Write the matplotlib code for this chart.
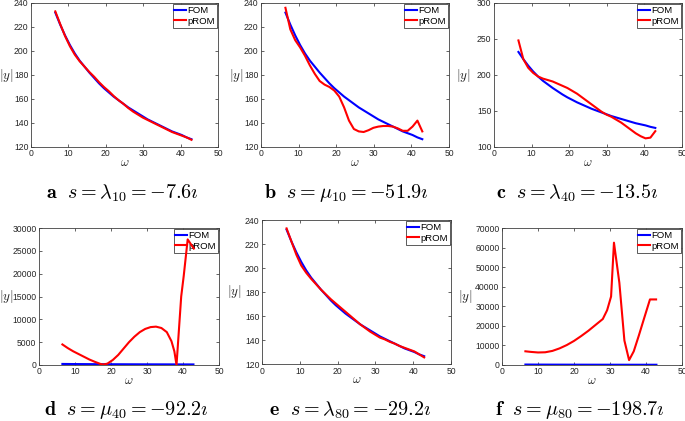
import matplotlib
matplotlib.use("Agg")
import matplotlib.pyplot as plt

plt.rcParams['font.family'] = 'Liberation Sans'
plt.rcParams['mathtext.fontset'] = 'cm'

# 주파수 격자 (FOM 공통)
omega = [6.5, 7.8, 9.1, 10.4, 11.7, 13.0, 14.3, 15.6, 16.9, 18.2, 19.5, 20.8, 22.1, 23.4, 24.7,
         26.0, 27.3, 28.6, 29.9, 31.2, 32.5, 33.8, 35.1, 36.4, 37.7, 39.0, 40.3, 41.6, 42.9]
fom = [232, 222, 213, 205, 198, 192, 187, 182, 177.5, 173, 169, 165.5, 162, 159, 156,
       153, 150.5, 148, 145.5, 143, 141, 139, 137, 135, 133, 131.5, 130, 128, 126.5]

prom_a = [233, 222.5, 212.5, 204, 197, 191.5, 187, 182.5, 178.5, 174, 170, 166.5, 162.5, 159, 156,
          152.5, 149.5, 147, 144.5, 142.5, 140.5, 138.5, 136.5, 134.5, 132.5, 131, 129.5, 128, 126]
prom_b = [236, 218, 209, 203, 196, 188, 181, 175, 172, 170, 167, 162, 153, 142, 135,
          133, 132.5, 134, 136, 137, 137.5, 137.5, 137, 135.5, 133.5, 133.5, 137, 142, 133]
prom_c = [248, 222, 210, 203, 198, 195, 193, 191, 188, 185, 182, 178, 174, 169, 164,
          159, 154, 149, 145, 142, 138, 134, 129, 124, 119, 115, 112, 113, 122]
prom_e = [233, 222, 211, 202, 196, 191, 186.5, 182, 178, 174, 170.5, 167, 163.5, 160, 156.5,
          153, 150, 147, 144.5, 142, 140.5, 138.5, 137, 135, 133.5, 132, 130.5, 128, 125.5]

omega_d = [6.5, 8, 9.5, 11, 12.5, 14, 15.5, 17, 17.8, 19, 20.5, 22, 23.5, 25, 26.5, 28, 29.5,
           31, 32.5, 34, 35.5, 36.8, 37.6, 38.2, 39.5, 40.2, 41.3, 43.0]
prom_d = [4500, 3700, 3000, 2400, 1800, 1200, 700, 250, 100, 300, 1100, 2200, 3600, 5000, 6200,
          7200, 7900, 8300, 8400, 8100, 7200, 5200, 3000, 0, 15000, 19500, 27500, 25500]

omega_f = [6.5, 8, 10, 12, 14, 16, 18, 20, 22, 24, 26, 28, 29.2, 30.3, 31.1, 32.6, 34, 35.3,
           36.6, 38, 39.5, 41.1, 42.8]
prom_f = [7000, 6700, 6400, 6500, 7200, 8500, 10200, 12300, 14800, 17500, 20500, 23500, 28000,
          35000, 62500, 42000, 12500, 2500, 7000, 15000, 24000, 33500, 33500]

captions = [r"$\mathbf{a}\ \ s=\lambda_{10}=-7.6\imath$",
            r"$\mathbf{b}\ \ s=\mu_{10}=-51.9\imath$",
            r"$\mathbf{c}\ \ s=\lambda_{40}=-13.5\imath$",
            r"$\mathbf{d}\ \ s=\mu_{40}=-92.2\imath$",
            r"$\mathbf{e}\ \ s=\lambda_{80}=-29.2\imath$",
            r"$\mathbf{f}\ \ s=\mu_{80}=-198.7\imath$"]

W, H = 685, 421
fig = plt.figure(figsize=(W / 100, H / 100), dpi=100)

# 패널: (x0, x1, y0, y1) 픽셀, 데이터, y축 범위/간격
panels = [
    ((31, 218, 3, 147), omega, prom_a, (120, 240, 20)),
    ((261, 449, 3, 147), omega, prom_b, (120, 240, 20)),
    ((494, 682, 3, 147), omega, prom_c, (100, 300, 50)),
    ((39, 219, 228, 365), omega_d, prom_d, (0, 30000, 5000)),
    ((262, 451, 220, 364), omega, prom_e, (120, 240, 20)),
    ((502, 682, 228, 365), omega_f, prom_f, (0, 70000, 10000)),
]
cap_pos = [(122, 193), (346, 193), (577, 193), (126, 410), (350, 410), (580, 410)]
ylab_x = [6.5, 236, 463, 6.5, 234, 465]

for i, ((x0, x1, y0, y1), om, pr, (lo, hi, st)) in enumerate(panels):
    ax = fig.add_axes([x0 / W, (H - y1) / H, (x1 - x0) / W, (y1 - y0) / H])
    ax.plot(omega, fom, color='blue', lw=1.5, label='FOM', zorder=3)
    ax.plot(om, pr, color='red', lw=1.5, label='pROM', zorder=4)
    ax.set_xlim(0, 50)
    ax.set_ylim(lo, hi)
    ax.set_xticks(range(0, 51, 10))
    ax.set_yticks(range(lo, hi + 1, st))
    ax.tick_params(direction='in', length=2.5, width=0.5, labelsize=6.2, pad=1.8,
                   top=True, right=True, colors='#262626')
    for sp in ax.spines.values():
        sp.set_linewidth(0.6)
        sp.set_color('#404040')
    leg = ax.legend(loc='upper right', fontsize=6.8, handlelength=1.2, handletextpad=0.2,
                    borderpad=0.2, labelspacing=0.2, borderaxespad=0.1, fancybox=False,
                    framealpha=1)
    leg.get_frame().set_edgecolor('#404040')
    leg.get_frame().set_linewidth(0.6)
    leg.set_zorder(2)
    fig.text((x0 + x1) / 2 / W, 1 - (y1 + 16) / H, r"$\omega$", ha='center', va='center',
             fontsize=9, color='#262626')
    fig.text(ylab_x[i] / W, 1 - (y0 + y1) / 2 / H, r"$|y|$", ha='center', va='center',
             fontsize=9.5, color='#262626')
    cx, cy = cap_pos[i]
    fig.text(cx / W, 1 - cy / H, captions[i], ha='center', va='center', fontsize=14.5)

fig.savefig('out.png', dpi=100)
